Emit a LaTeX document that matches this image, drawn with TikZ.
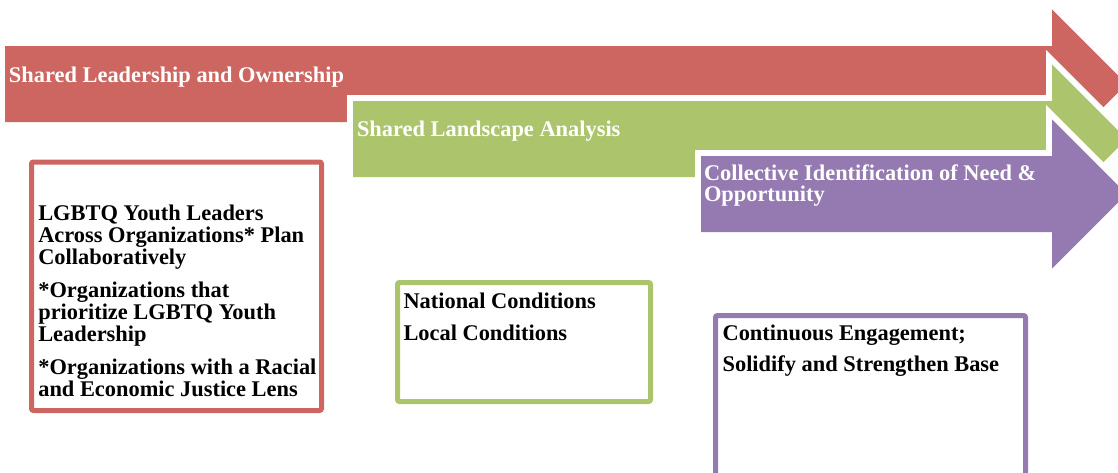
\documentclass[tikz,border=0pt]{standalone}
\usepackage{fontspec}
\setmainfont{Liberation Serif}
\definecolor{ared}{RGB}{205,102,96}
\definecolor{agreen}{RGB}{172,196,108}
\definecolor{apurple}{RGB}{148,122,176}
\tikzset{
  arrowfill/.style={fill=#1, preaction={draw=white, line width=12pt, line join=miter}},
  atext/.style={text=white, inner sep=0pt, outer sep=0pt,
    font=\fontsize{22.4}{21}\selectfont\bfseries},
  btext/.style={text=black, inner sep=0pt, outer sep=0pt, anchor=north west, align=left,
    font=\fontsize{22.4}{22}\selectfont\bfseries},
  framebox/.style={draw=#1, line width=5pt, rounded corners=2pt, fill=white,
    inner sep=0pt, outer sep=0pt}
}
\begin{document}
\begin{tikzpicture}[x=1pt,y=-1pt]
\useasboundingbox (0,0) rectangle (1118,472);
\clip (0,0) rectangle (1118,472);
% arrows
\fill[arrowfill=ared] (5,46) -- (1052,46) -- (1052,9.3) -- (1126.7,84) -- (1052,158.7) -- (1052,122) -- (5,122) -- cycle;
\fill[arrowfill=agreen] (353,101) -- (1052,101) -- (1052,64.3) -- (1126.7,139) -- (1052,213.7) -- (1052,177) -- (353,177) -- cycle;
\fill[arrowfill=apurple] (701,156) -- (1052,156) -- (1052,119.3) -- (1126.7,194) -- (1052,268.7) -- (1052,232) -- (701,232) -- cycle;
% arrow labels
\node[atext, anchor=base west] (t1) at (9,82) {Shared Leadership and Ownership};
\node[atext, anchor=base west] (t2) at (357,136.7) {Shared Landscape Analysis};
\node[atext, anchor=north west, align=left] (t3) at (704,163) {\rule{0pt}{17pt}Collective Identification of Need \&\\Opportunity};
% boxes
\node[framebox=ared, minimum width=290pt, minimum height=248.5pt] (b1) at (176.5,286.25) {};
\node[framebox=agreen, minimum width=253pt, minimum height=119pt] (b2) at (524,342) {};
\node[framebox=apurple, minimum width=310pt, minimum height=174.5pt] (b3) at (870.5,402.75) {};
% box texts
\node[btext] (p1) at (38.3,203.5) {\rule{0pt}{17pt}LGBTQ Youth Leaders\\Across Organizations* Plan\\Collaboratively\\[11pt]{*}Organizations that\\prioritize LGBTQ Youth\\Leadership\\[11pt]{*}Organizations with a Racial\\and Economic Justice Lens};
\node[btext] (p2) at (403.5,291.3) {\rule{0pt}{17pt}National Conditions\\[10pt]Local Conditions};
\node[btext] (p3) at (722.6,323) {\rule{0pt}{17pt}Continuous Engagement;\\[9.7pt]Solidify and Strengthen Base};
\end{tikzpicture}
\end{document}
